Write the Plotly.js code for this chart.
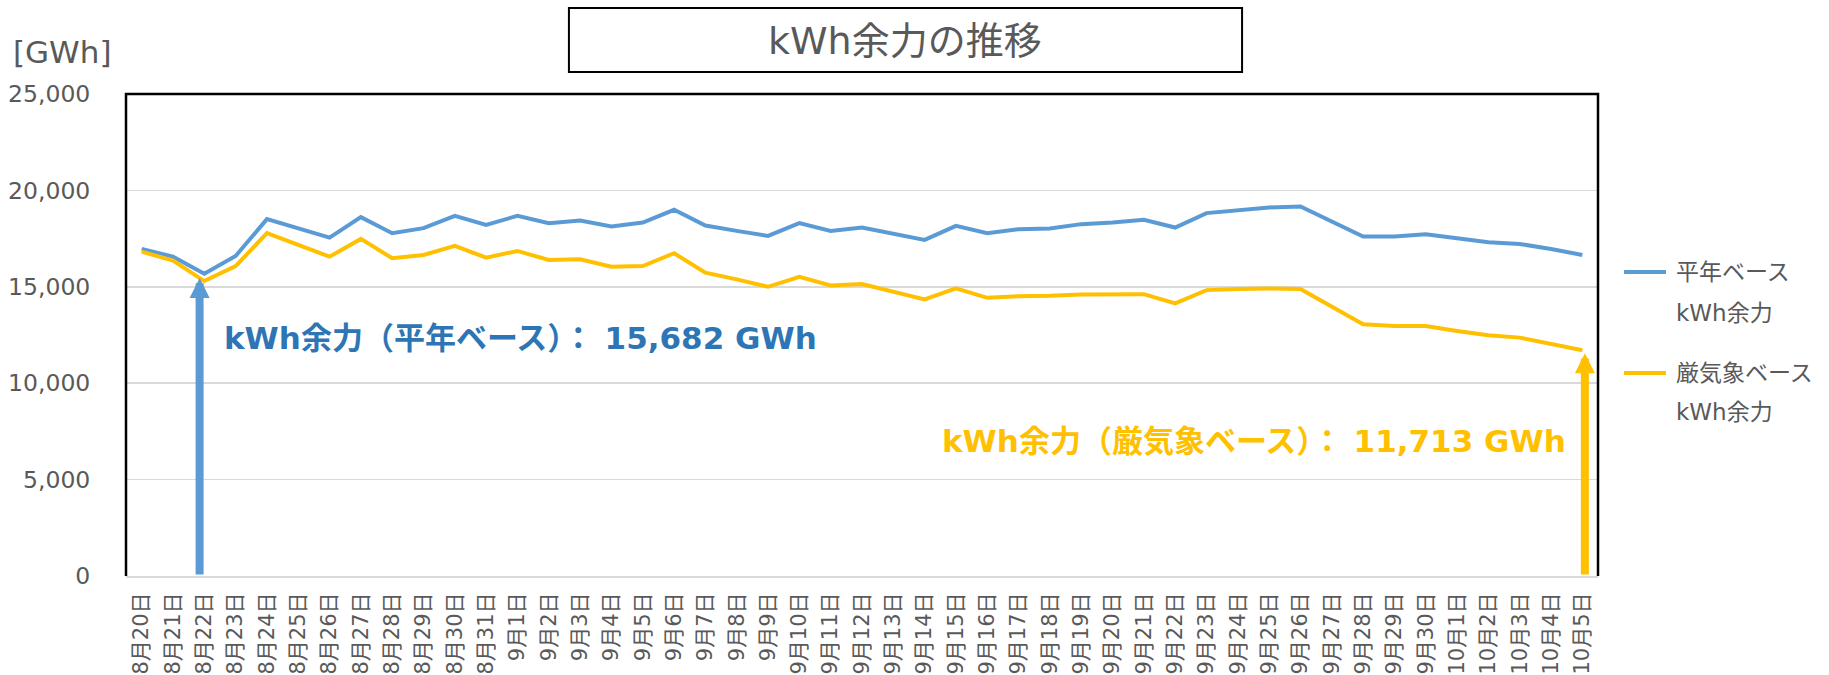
<!DOCTYPE html>
<html>
<head>
<meta charset="utf-8">
<script src="https://cdn.plot.ly/plotly-3.0.1.min.js"></script>
<style>
  html, body { margin: 0; padding: 0; background: #ffffff; }
  #chart { width: 1829px; height: 675px; }
</style>
</head>
<body>
<div id="chart"></div>
<script>
const categories = [
  "8月20日","8月21日","8月22日","8月23日","8月24日","8月25日","8月26日","8月27日","8月28日","8月29日","8月30日","8月31日",
  "9月1日","9月2日","9月3日","9月4日","9月5日","9月6日","9月7日","9月8日","9月9日","9月10日","9月11日","9月12日",
  "9月13日","9月14日","9月15日","9月16日","9月17日","9月18日","9月19日","9月20日","9月21日","9月22日","9月23日","9月24日",
  "9月25日","9月26日","9月27日","9月28日","9月29日","9月30日","10月1日","10月2日","10月3日","10月4日","10月5日"
];

const normalBase = [
  16964, 16563, 15682, 16600, 18510, 18005, 17552, 18615, 17781, 18042, 18682, 18214,
  18682, 18302, 18438, 18125, 18333, 18995, 18177, 17901, 17641, 18302, 17901, 18073,
  17745, 17432, 18161, 17781, 17990, 18021, 18250, 18333, 18474, 18073, 18823, 18995,
  19115, 19167, 18386, 17604, 17604, 17729, 17521, 17313, 17224, 16964, 16651
];

const severeBase = [
  16823, 16354, 15297, 16078, 17781, 17172, 16563, 17484, 16479, 16651, 17120, 16511,
  16860, 16391, 16427, 16042, 16078, 16740, 15729, 15386, 15000, 15521, 15073, 15141,
  14740, 14344, 14917, 14427, 14516, 14531, 14604, 14604, 14620, 14136, 14828, 14880,
  14917, 14880, 13959, 13057, 12969, 12969, 12709, 12484, 12364, 12052, 11713
];

const seriesNames = ["平年ベース kWh余力", "厳気象ベース kWh余力"];
const legendLines = [["平年ベース", "kWh余力"], ["厳気象ベース", "kWh余力"]];
const yTicks = [0, 5000, 10000, 15000, 20000, 25000];

const blueMin = { cat: 2, value: 15682, arrowTip: 15450 };
const yellowEnd = { cat: 46, value: 11713, arrowTip: 11550 };

const BLUE = "#5B9BD5";
const YELLOW = "#FFC000";
const BLUE_TEXT = "#2E75B6";
const GRAY = "#595959";
const FONT = "DejaVu Sans, Noto Sans CJK JP, sans-serif";

const traces = [
  {
    type: "scatter", mode: "lines", name: seriesNames[0],
    x: categories, y: normalBase,
    line: { color: BLUE, width: 4 }, hoverinfo: "x+y"
  },
  {
    type: "scatter", mode: "lines", name: seriesNames[1],
    x: categories, y: severeBase,
    line: { color: YELLOW, width: 4 }, hoverinfo: "x+y"
  }
];

const fmt = v => v.toLocaleString("en-US");

const annotations = [
  // chart title
  { xref: "paper", yref: "paper", x: 0.529, y: 1.110, xanchor: "center", yanchor: "middle",
    text: "kWh余力の推移", showarrow: false, font: { family: FONT, size: 38, color: GRAY } },
  // unit label
  { xref: "paper", yref: "paper", x: -0.043, y: 1.087, xanchor: "center", yanchor: "middle",
    text: "[GWh]", showarrow: false, font: { family: FONT, size: 31, color: GRAY } },
  // arrows
  { xref: "x", yref: "y", axref: "x", ayref: "y",
    x: blueMin.cat - 0.15, y: blueMin.arrowTip, ax: blueMin.cat - 0.15, ay: 0,
    text: "", showarrow: true, arrowhead: 2, arrowsize: 0.5, arrowwidth: 8,
    arrowcolor: BLUE, standoff: 0, startstandoff: 0 },
  { xref: "x", yref: "y", axref: "x", ayref: "y",
    x: yellowEnd.cat + 0.08, y: yellowEnd.arrowTip, ax: yellowEnd.cat + 0.08, ay: 0,
    text: "", showarrow: true, arrowhead: 2, arrowsize: 0.5, arrowwidth: 8,
    arrowcolor: YELLOW, standoff: 0, startstandoff: 0 },
  // value callouts
  { xref: "paper", yref: "paper", x: 0.2677, y: 0.4938, xanchor: "center", yanchor: "middle",
    text: "<b>kWh余力（平年ベース）： " + fmt(blueMin.value) + " GWh</b>", showarrow: false,
    font: { family: FONT, size: 31, color: BLUE_TEXT } },
  { xref: "paper", yref: "paper", x: 0.7663, y: 0.2801, xanchor: "center", yanchor: "middle",
    text: "<b>kWh余力（厳気象ベース）： " + fmt(yellowEnd.value) + " GWh</b>", showarrow: false,
    font: { family: FONT, size: 31, color: YELLOW } },
  // manual legend text
  { xref: "paper", yref: "paper", x: 1.0516, y: 0.6307, xanchor: "left", yanchor: "middle",
    text: legendLines[0][0], showarrow: false, font: { family: FONT, size: 23, color: GRAY } },
  { xref: "paper", yref: "paper", x: 1.0516, y: 0.5456, xanchor: "left", yanchor: "middle",
    text: legendLines[0][1], showarrow: false, font: { family: FONT, size: 23, color: GRAY } },
  { xref: "paper", yref: "paper", x: 1.0516, y: 0.4212, xanchor: "left", yanchor: "middle",
    text: legendLines[1][0], showarrow: false, font: { family: FONT, size: 23, color: GRAY } },
  { xref: "paper", yref: "paper", x: 1.0516, y: 0.3402, xanchor: "left", yanchor: "middle",
    text: legendLines[1][1], showarrow: false, font: { family: FONT, size: 23, color: GRAY } }
];

const shapes = [
  // title box
  { type: "rect", xref: "paper", yref: "paper", x0: 0.3009, x1: 0.7582, y0: 1.0456, y1: 1.1784,
    line: { color: "#000000", width: 2 }, fillcolor: "rgba(0,0,0,0)" },
  // plot border (left, top, right)
  { type: "path", xref: "paper", yref: "paper", path: "M 0 0 L 0 1 L 1 1 L 1 0",
    line: { color: "#000000", width: 2.5 } },
  // legend samples
  { type: "line", xref: "paper", yref: "paper", x0: 1.0177, x1: 1.0462, y0: 0.6307, y1: 0.6307,
    line: { color: BLUE, width: 4 } },
  { type: "line", xref: "paper", yref: "paper", x0: 1.0177, x1: 1.0462, y0: 0.4212, y1: 0.4212,
    line: { color: YELLOW, width: 4 } }
];

const layout = {
  width: 1829, height: 675,
  margin: { l: 126, r: 231, t: 94, b: 99 },
  paper_bgcolor: "#ffffff", plot_bgcolor: "#ffffff",
  showlegend: false,
  xaxis: {
    type: "category", categoryorder: "array", categoryarray: categories,
    range: [-0.5, categories.length - 0.5],
    tickangle: -90, showgrid: false, zeroline: false,
    showline: true, linecolor: "#D9D9D9", linewidth: 2,
    ticks: "outside", ticklen: 6, tickcolor: "rgba(0,0,0,0)",
    tickfont: { family: FONT, size: 21, color: GRAY }, fixedrange: true
  },
  yaxis: {
    range: [0, 25000], tickvals: yTicks, ticktext: yTicks.map(fmt),
    showgrid: true, gridcolor: "#D9D9D9", gridwidth: 1.5, zeroline: false,
    showline: false, ticks: "outside", ticklen: 30, tickcolor: "rgba(0,0,0,0)",
    tickfont: { family: FONT, size: 23.5, color: GRAY }, fixedrange: true
  },
  annotations: annotations,
  shapes: shapes
};

Plotly.newPlot("chart", traces, layout, { displayModeBar: false, staticPlot: true });
</script>
</body>
</html>
